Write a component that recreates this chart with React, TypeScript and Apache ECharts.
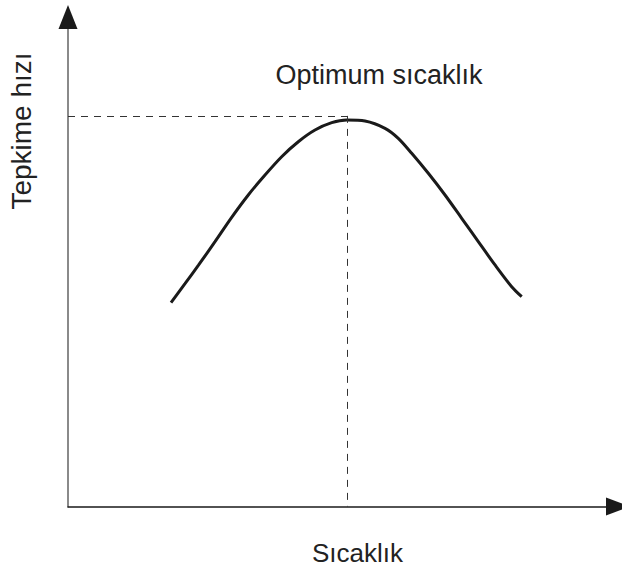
import React, { useEffect, useRef } from "react";
import * as echarts from "echarts";

// Curve points (temperature, reaction rate)
const temperature = [
  18.73, 21.27, 23.69, 26.73, 29.76, 32.78, 35.82, 38.85, 41.87, 44.91, 47.95, 50.67,
  54.0, 57.64, 60.05, 62.49, 65.51, 68.55, 71.58, 74.6, 77.64, 80.67, 82.49,
];
const rate = [
  41.63, 45.52, 49.27, 54.1, 59.07, 63.64, 67.72, 71.46, 74.52, 76.91, 78.41, 78.96,
  78.75, 77.26, 75.22, 72.16, 68.07, 63.64, 58.88, 54.1, 49.34, 44.9, 42.86,
];
const optimum = [50.8, 79.8];
const xName = "Sıcaklık";
const yName = "Tepkime hızı";
const optimumLabel = "Optimum sıcaklık";

const FONT = "'Liberation Sans', Arial, sans-serif";

export default function App() {
  const ref = useRef<HTMLDivElement>(null);
  useEffect(() => {
    if (!ref.current) return;
    const chart = echarts.init(ref.current, null, { renderer: "svg" });
    const data = temperature.map((t, i) => [t, rate[i]]);
    chart.setOption({
      animation: false,
      grid: { left: 68, right: 4, top: 17, bottom: 65.5 },
      xAxis: {
        type: "value",
        min: 0,
        max: 100,
        axisLine: {
          show: true,
          symbol: ["none", "triangle"],
          symbolSize: [18, 24],
          lineStyle: { color: "#1a1a1a", width: 1.5 },
        },
        axisTick: { show: false },
        axisLabel: { show: false },
        splitLine: { show: false },
      },
      yAxis: {
        type: "value",
        min: 0,
        max: 100,
        axisLine: {
          show: true,
          lineStyle: { color: "#8a8a8a", width: 2 },
        },
        axisTick: { show: false },
        axisLabel: { show: false },
        splitLine: { show: false },
      },
      series: [
        {
          type: "line",
          data,
          smooth: 0.3,
          showSymbol: false,
          lineStyle: { color: "#1a1a1a", width: 3 },
          markLine: {
            silent: true,
            symbol: ["none", "none"],
            label: { show: false },
            lineStyle: { color: "#333", width: 1, type: [7, 6] },
            data: [
              [{ coord: [0, optimum[1]] }, { coord: [optimum[0], optimum[1]] }],
              [{ coord: [optimum[0], optimum[1]] }, { coord: [optimum[0], 0] }],
            ],
          },
        },
      ],
    });
    const top = chart.convertToPixel({ gridIndex: 0 }, [0, 100]) as number[];
    chart.setOption({
      graphic: [
        {
          type: "polygon",
          shape: {
            points: [
              [top[0], top[1] - 12],
              [top[0] + 9.5, top[1] + 12],
              [top[0] - 9.5, top[1] + 12],
            ],
          },
          style: { fill: "#1a1a1a" },
          z: 100,
        },
        {
          type: "text",
          x: 379,
          y: 75,
          style: {
            text: optimumLabel,
            font: `27px ${FONT}`,
            fill: "#222",
            textAlign: "center",
            textVerticalAlign: "middle",
          },
        },
        {
          type: "text",
          x: 357.5,
          y: 553,
          style: {
            text: xName,
            font: `26px ${FONT}`,
            fill: "#222",
            textAlign: "center",
            textVerticalAlign: "middle",
          },
        },
        {
          type: "text",
          x: 21,
          y: 131,
          rotation: Math.PI / 2,
          style: {
            text: yName,
            font: `28px ${FONT}`,
            fill: "#222",
            textAlign: "center",
            textVerticalAlign: "middle",
          },
        },
      ],
    });
    return () => chart.dispose();
  }, []);
  return (
    <div
      ref={ref}
      style={{ position: "fixed", left: 0, top: 0, width: 622, height: 572, background: "#fff" }}
    />
  );
}
